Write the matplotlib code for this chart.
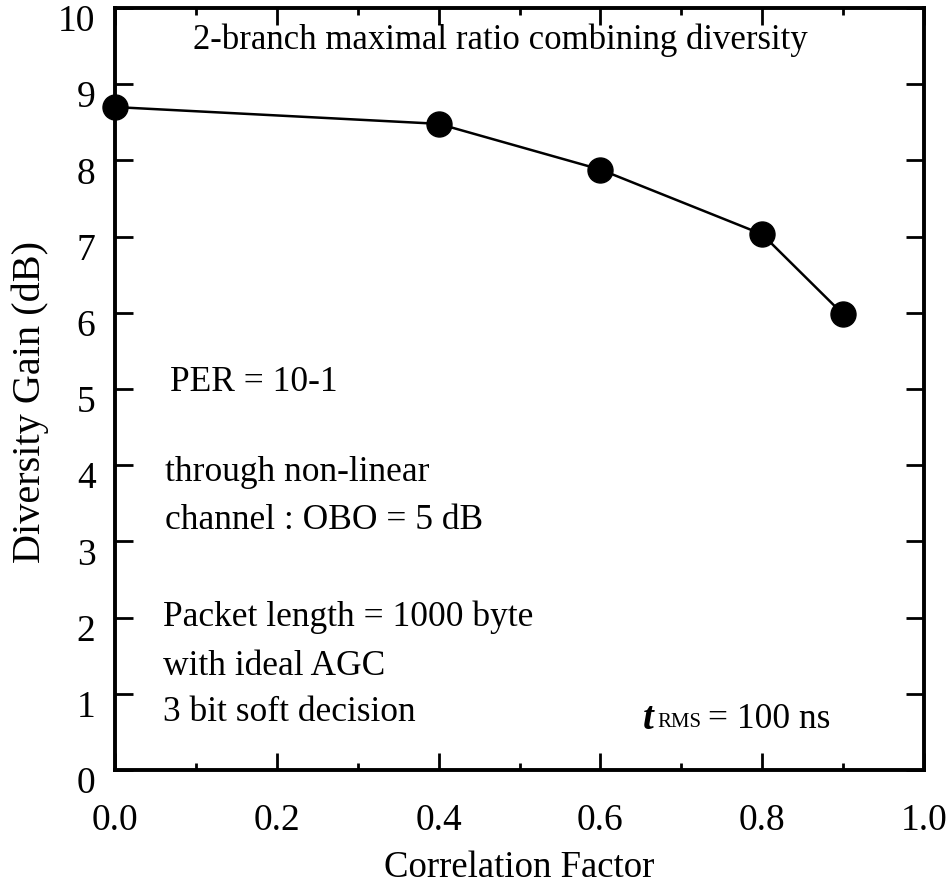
import matplotlib
matplotlib.use("Agg")
import matplotlib.pyplot as plt
import matplotlib.transforms as mtransforms
from matplotlib.ticker import MultipleLocator

# data
corr = [0.0, 0.4, 0.6, 0.8, 0.9]
gain = [8.7, 8.48, 7.88, 7.03, 5.98]

xticks = [0.0, 0.2, 0.4, 0.6, 0.8, 1.0]
xticklabels = ["0.0", "0.2", "0.4", "0.6", "0.8", "1.0"]
yticks = list(range(0, 11))

plt.rcParams["font.family"] = ["Liberation Serif", "DejaVu Serif"]

fig = plt.figure(figsize=(9.49, 8.88), dpi=100)
ax = fig.add_axes([115 / 949, 1 - 770 / 888, 809 / 949, 762 / 888])

ax.plot(corr, gain, color="black", linewidth=1.8, marker="o",
        markersize=18, markerfacecolor="black", markeredgecolor="black",
        clip_on=False, zorder=5)

ax.set_xlim(0, 1)
ax.set_ylim(0, 10)
ax.set_xticks(xticks)
ax.set_xticklabels(xticklabels)
ax.xaxis.set_minor_locator(MultipleLocator(0.1))
ax.set_yticks(yticks)

for side in ax.spines.values():
    side.set_linewidth(2.8)

ax.tick_params(axis="x", which="major", direction="in", length=12, width=2,
               top=True, labelsize=27, pad=24)
ax.tick_params(axis="x", which="minor", direction="in", length=5, width=2,
               top=True)
ax.tick_params(axis="y", which="major", direction="in", length=13, width=2,
               right=True, labelsize=27, pad=14)

# y tick labels sit a little below their ticks in the reference
shift = mtransforms.ScaledTranslation(0, -0.1, fig.dpi_scale_trans)
for lab in ax.get_yticklabels():
    lab.set_transform(lab.get_transform() + shift)

ax.set_xlabel("Correlation Factor", fontsize=26.5, labelpad=9)
ax.set_ylabel("Diversity Gain (dB)", fontsize=29)
ax.yaxis.set_label_coords(-0.082, 0.483)

fs = 25.5
ax.text(0.476, 9.58, "2-branch maximal ratio combining diversity",
        fontsize=25, ha="center", va="center")
ax.text(0.068, 5.09, "PER = 10-1", fontsize=fs, ha="left", va="center")
ax.text(0.062, 3.91, "through non-linear", fontsize=fs, ha="left", va="center")
ax.text(0.062, 3.27, "channel : OBO = 5 dB", fontsize=fs, ha="left", va="center")
ax.text(0.059, 2.0, "Packet length = 1000 byte", fontsize=fs, ha="left", va="center")
ax.text(0.059, 1.36, "with ideal AGC", fontsize=fs, ha="left", va="center")
ax.text(0.059, 0.75, "3 bit soft decision", fontsize=fs, ha="left", va="center")

ax.text(0.652, 0.66, "t", fontsize=28, fontstyle="italic", fontweight="bold",
        ha="left", va="center")
ax.text(0.670, 0.62, "RMS", fontsize=15, ha="left", va="center")
ax.text(0.733, 0.66, "= 100 ns", fontsize=fs, ha="left", va="center")

fig.savefig("out.png", dpi=100)
